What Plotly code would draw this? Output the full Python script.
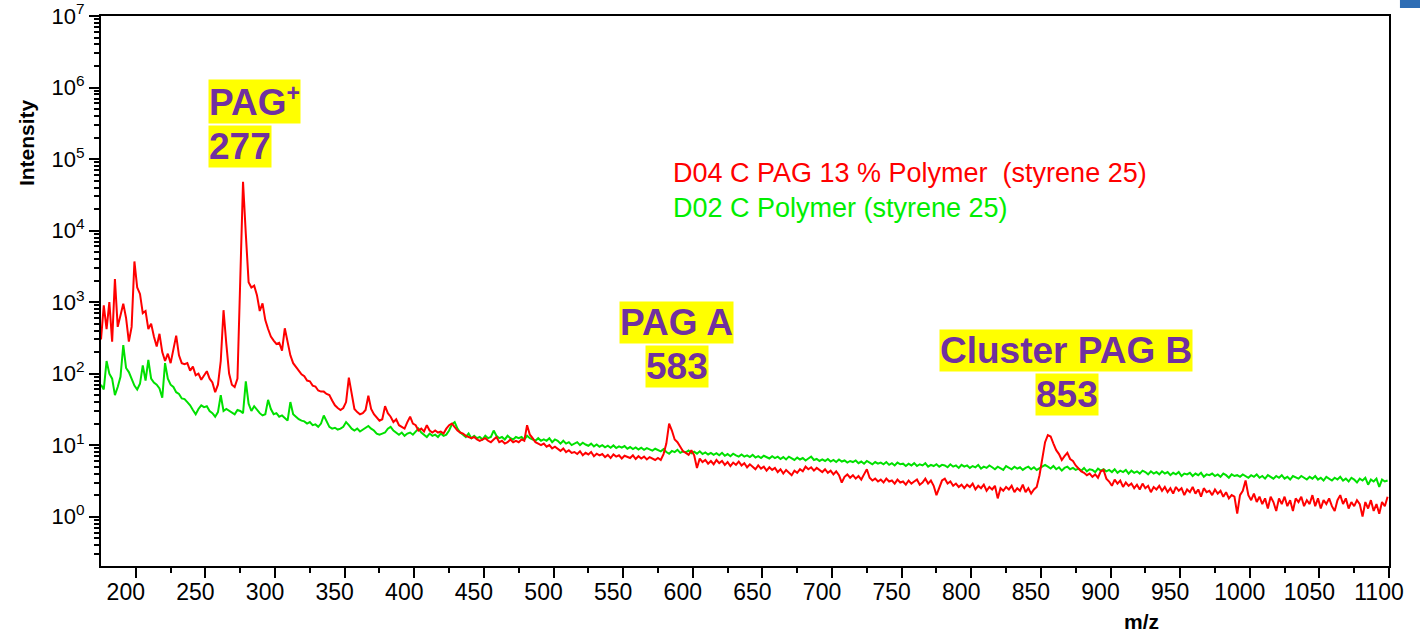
import numpy as np
import plotly.graph_objects as go

# m/z sampling grid of both spectra (every 2 units)
mz = np.arange(175, 1101, 2)

# D04 C PAG 13 % Polymer (styrene 25) - intensity, rows of 10 points (20 m/z units each)
pag_polymer = [
    300, 900, 420, 1000, 280, 2100, 450, 650, 950, 600,          # 175
    280, 450, 3700, 1600, 1300, 700, 750, 420, 500, 330,         # 195
    240, 360, 200, 150, 190, 140, 210, 340, 180, 140,            # 215
    135, 140, 110, 125, 95, 100, 82, 95, 108, 85,                # 235
    75, 55, 70, 150, 770, 260, 100, 70, 65, 85,                  # 255
    3000, 48000, 9000, 1900, 1600, 1700, 1250, 750, 960, 560,    # 275
    420, 330, 290, 260, 270, 210, 430, 260, 180, 140,            # 295
    125, 108, 98, 92, 80, 78, 68, 66, 58, 56,                    # 315
    56, 52, 50, 42, 36, 33, 31, 33, 40, 88,                      # 335
    50, 32, 29, 27, 28, 31, 49, 32, 27, 24,                      # 355
    22, 23, 35, 28, 25, 21, 23, 19, 18, 17,                      # 375
    21, 25, 20, 19, 16, 17, 15.5, 19, 16, 15,                    # 395
    16, 15, 15.5, 14.5, 17, 19, 20, 18, 16, 15,                  # 415
    14.5, 13.5, 13, 12.5, 13, 12, 11.5, 12, 12.5, 11.5,          # 435
    11, 12, 13, 11, 11.5, 10.5, 11, 12, 11, 11.5,                # 455
    11, 12, 11.5, 19, 14, 12.5, 11, 10.5, 10, 10.5,              # 475
    9.5, 10, 9, 9.5, 8.8, 8.3, 9, 8, 8.5, 7.8,                   # 495
    8, 7.5, 8.2, 7.2, 7.8, 7.4, 8, 7, 7.6, 7.2,                  # 515
    7.5, 6.8, 7.3, 6.6, 7.4, 6.9, 7.2, 6.5, 7.1, 6.8,            # 535
    6.6, 7.2, 6.4, 7, 6.5, 6.9, 6.3, 6.8, 6.5, 6.2,              # 555
    6.6, 6.2, 7.5, 10.5, 20, 16, 12, 11, 9.5, 8.2,               # 575
    7.8, 7.3, 8.5, 7.2, 4.8, 6.5, 5.8, 6.2, 5.5, 6,              # 595
    5.4, 6.2, 5.6, 6, 5.3, 5.8, 5.1, 5.7, 5.3, 5.9,              # 615
    5.2, 5.6, 4.9, 5.4, 5, 4.6, 5.2, 4.7, 5, 4.4,                # 635
    4.9, 4.5, 4.8, 4.2, 4.6, 4, 4.5, 4.1, 3.8, 4.4,              # 655
    4.1, 4.6, 4.3, 5, 4.6, 4.9, 4.4, 4.8, 4.5, 4.2,              # 675
    4.6, 4.1, 4.4, 3.9, 4.3, 3.8, 3.0, 3.6, 3.9, 3.5,            # 695
    3.8, 3.4, 3.7, 3.3, 3.9, 4.6, 3.5, 3.2, 3.4, 3.1,            # 715
    3.3, 3, 3.4, 3.1, 3.2, 2.9, 3.3, 3, 3.1, 2.8,                # 735
    3.2, 2.9, 3.1, 3.3, 2.8, 3.0, 3.4, 2.9, 3.2, 2.7,            # 755
    2.0, 2.6, 3.2, 3.4, 2.9, 3.1, 2.7, 2.9, 2.6, 2.8,            # 775
    2.5, 2.8, 2.6, 2.9, 2.4, 2.7, 2.5, 2.8, 2.3, 2.6,            # 795
    2.4, 2.7, 1.8, 2.5, 2.3, 2.6, 2.4, 2.7, 2.2, 2.5,            # 815
    2.3, 2.8, 2.2, 2.5, 2.1, 2.4, 2.6, 3.8, 6.5, 11,             # 835
    13.8, 13.2, 10.5, 8.5, 7.5, 6.2, 7, 7.8, 6.4, 6,             # 855
    5.2, 4.7, 4.3, 4.1, 3.8, 4, 3.6, 3.9, 3.5, 4.3,              # 875
    4.5, 3.4, 3.1, 2.7, 3.3, 2.9, 3.2, 2.6, 3, 2.7,              # 895
    2.9, 2.5, 2.8, 2.4, 2.9, 2.5, 2.7, 2.2, 2.6, 2.4,            # 915
    2.7, 2.3, 2.6, 2.2, 2.5, 2.1, 2.6, 2.3, 2.5, 2.0,            # 935
    2.4, 2.2, 2.6, 2.1, 2.4, 1.9, 2.5, 2.2, 2.3, 2.0,            # 955
    2.4, 2.1, 2.3, 1.9, 2.2, 1.8, 2.0, 1.9, 1.1, 2.0,            # 975
    2.3, 3.2, 2.0, 1.7, 2.1, 1.6, 1.9, 1.5, 1.8, 1.3,            # 995
    1.9, 1.6, 1.2, 1.8, 1.5, 1.9, 1.4, 1.7, 1.2, 1.8,            # 1015
    1.6, 1.9, 1.4, 1.7, 1.5, 2.0, 1.4, 1.8, 1.3, 1.7,            # 1035
    1.5, 1.8, 1.4, 1.2, 1.7, 2.0, 1.5, 1.8, 1.3, 1.6,            # 1055
    1.4, 1.7, 1.5, 1.0, 1.6, 1.3, 1.7, 1.2, 1.5, 1.1,            # 1075
    1.6, 1.4, 1.9,                                               # 1095
]

# D02 C Polymer (styrene 25) - intensity on the same grid
polymer = [
    70, 60, 150, 100, 85, 50, 65, 90, 250, 120,                  # 175
    105, 85, 68, 60, 72, 130, 80, 155, 85, 75,                   # 195
    70, 62, 46, 140, 85, 70, 65, 55, 52, 45,                     # 215
    44, 40, 36, 31, 27, 32, 36, 34, 35, 30,                      # 235
    28, 25, 29, 50, 30, 32, 30, 28, 27, 31,                      # 255
    30, 28, 78, 38, 30, 35, 31, 28, 26, 27,                      # 275
    43, 32, 27, 28, 25, 26, 24, 22, 40, 27,                      # 295
    25, 23, 22, 21.5, 20, 21, 19, 19.5, 18, 20,                  # 315
    26, 22, 18, 17, 17.5, 16.5, 17, 18, 21, 19,                  # 335
    17, 16, 17, 15.5, 16.5, 17.5, 18.5, 17, 16, 14.5,            # 355
    14, 14.5, 15, 17, 18, 16, 15, 14, 15, 13.5,                  # 375
    14.5, 15, 14, 15.5, 17, 15, 14, 13, 14.5, 13.5,              # 395
    14, 13, 14.5, 13.5, 14, 16, 19.5, 21, 17, 15,                # 415
    14, 13, 14.5, 12.5, 13.5, 12.5, 13, 12, 13.5, 12.5,          # 435
    13, 16, 13.5, 12.5, 13, 12, 13.5, 12.5, 12, 13,              # 455
    12.5, 13, 12, 13.5, 12.5, 12, 11.5, 12.5, 11.5, 12,          # 475
    11.5, 12.5, 11, 12, 11.5, 10.5, 11.5, 10.5, 11, 10,          # 495
    10.5, 11, 10, 10.8, 10.2, 9.8, 10.5, 9.6, 10.2, 9.5,         # 515
    10, 9.3, 9.8, 9.2, 9.9, 9.1, 9.6, 9.2, 9.7, 8.9,             # 535
    9.4, 8.8, 9.3, 8.7, 9.2, 8.6, 9.1, 8.8, 8.4, 8.9,            # 555
    8.5, 8.2, 8.8, 8, 7.6, 8.3, 8.0, 8.6, 7.8, 8.2,              # 575
    7.9, 8.4, 7.7, 8.1, 7.6, 8.2, 7.5, 7.9, 7.4, 7.8,            # 595
    7.3, 7.7, 7.2, 7.8, 7.1, 7.5, 7.0, 7.6, 7.2, 6.9,            # 615
    7.4, 6.9, 7.2, 6.8, 7.3, 6.7, 7.0, 6.6, 7.1, 6.8,            # 635
    6.5, 7.0, 6.6, 6.9, 6.4, 6.8, 6.3, 6.9, 6.5, 6.2,            # 655
    6.7, 6.3, 6.6, 6.1, 6.5, 6.9, 6.2, 6.4, 6.0, 6.3,            # 675
    6.0, 6.4, 5.9, 6.2, 5.8, 6.3, 5.9, 6.1, 5.7, 6.0,            # 695
    5.8, 6.1, 5.6, 5.9, 5.5, 6.0, 5.7, 5.4, 5.8, 5.5,            # 715
    5.7, 5.4, 5.8, 5.3, 5.6, 5.2, 5.7, 5.4, 5.5, 5.1,            # 735
    5.5, 5.2, 5.6, 5.1, 5.4, 5.2, 5.6, 5.0, 5.3, 5.1,            # 755
    5.4, 5.0, 5.3, 5.2, 4.9, 5.4, 5.0, 5.2, 4.8, 5.3,            # 775
    5.0, 5.2, 4.8, 5.1, 4.9, 5.3, 4.7, 5.0, 4.8, 5.2,            # 795
    4.9, 4.6, 5.0, 4.8, 4.5, 5.1, 4.8, 4.6, 5.0, 4.7,            # 815
    4.9, 4.5, 4.8, 5.0, 4.6, 4.9, 4.5, 4.8, 5.0, 5.3,            # 835
    5.0, 4.7, 5.1, 4.6, 4.9, 4.4, 4.8, 5.0, 4.6, 4.8,            # 855
    4.5, 4.7, 4.4, 4.8, 4.3, 4.6, 4.5, 4.2, 4.7, 4.4,            # 875
    4.6, 4.3, 4.5, 4.2, 4.6, 4.1, 4.4, 4.2, 4.5, 4.0,            # 895
    4.4, 4.1, 4.3, 4.0, 4.4, 4.2, 3.9, 4.3, 4.0, 4.2,            # 915
    3.9, 4.3, 4.0, 4.2, 3.8, 4.1, 3.9, 4.2, 3.7, 4.0,            # 935
    3.9, 4.1, 3.7, 4.0, 3.8, 4.1, 3.6, 3.9, 3.8, 4.0,            # 955
    3.7, 3.9, 3.6, 4.0, 3.8, 3.5, 3.9, 3.7, 3.8, 3.6,            # 975
    3.9, 3.7, 3.5, 3.8, 3.6, 3.9, 3.5, 3.7, 3.4, 3.8,            # 995
    3.6, 3.4, 3.7, 3.5, 3.8, 3.4, 3.6, 3.3, 3.7, 3.5,            # 1015
    3.4, 3.7, 3.5, 3.3, 3.6, 3.4, 3.7, 3.3, 3.5, 3.2,            # 1035
    3.6, 3.4, 3.2, 3.5, 3.3, 3.6, 3.2, 3.4, 3.1, 3.5,            # 1055
    3.3, 3.0, 3.4, 3.2, 3.5, 2.8, 3.3, 3.1, 3.4, 2.6,            # 1075
    3.3, 3.1, 3.2,                                               # 1095
]

assert len(pag_polymer) == len(mz) == len(polymer)

series_names = ["D04 C PAG 13 % Polymer  (styrene 25)", "D02 C Polymer (styrene 25)"]
series_colors = ["#FF0000", "#00E000"]

# peak labels: (line text, m/z of label centre or left edge, log10 height, anchor)
peak_labels = [
    ("PAG<span style='font-size:33px'><sup>+</sup></span>", 252.0, 5.806, "left"),
    ("277", 252.0, 5.177, "left"),
    ("PAG A", 588.3, 2.721, "center"),
    ("583", 588.4, 2.102, "center"),
    ("Cluster PAG B", 868.3, 2.33, "center"),
    ("853", 868.9, 1.701, "center"),
]

x_ticks = list(range(200, 1101, 50))
x_minor = list(range(225, 1100, 50))
y_decades = list(range(0, 8))
y_ticks = [10.0 ** p for p in y_decades]
y_ticktext = [f"10<sup>{p}</sup>" for p in y_decades]
y_minor = [m * 10.0 ** p for p in range(-1, 7) for m in range(2, 10)]

FONT = "Liberation Sans, Arial, sans-serif"

fig = go.Figure()
fig.add_trace(go.Scatter(x=mz, y=polymer, mode="lines", name=series_names[1],
                         line=dict(color=series_colors[1], width=2)))
fig.add_trace(go.Scatter(x=mz, y=pag_polymer, mode="lines", name=series_names[0],
                         line=dict(color=series_colors[0], width=2)))

annotations = []
for text, xv, yv, anchor in peak_labels:
    annotations.append(dict(
        x=xv, y=yv, xref="x", yref="y", text=f"<b>{text}</b>", showarrow=False,
        xanchor=anchor, yanchor="middle", bgcolor="#FFFF00", borderpad=0,
        font=dict(family=FONT, size=37, color="#7030A0")))

# series captions
for name, color, yv in zip(series_names, ["#FF0000", "#00EE00"], [4.798, 4.318]):
    annotations.append(dict(
        x=584.5, y=yv, xref="x", yref="y", text=name.replace("  ", "&nbsp; "),
        showarrow=False, xanchor="left", yanchor="middle",
        font=dict(family=FONT, size=27, color=color)))

# axis titles
annotations.append(dict(x=-0.0582, y=0.769, xref="paper", yref="paper", text="<b>Intensity</b>",
                        textangle=-90, showarrow=False, xanchor="center", yanchor="middle",
                        font=dict(family=FONT, size=21, color="black")))
annotations.append(dict(x=0.8075, y=-0.1018, xref="paper", yref="paper", text="<b>m/z</b>",
                        showarrow=False, xanchor="center", yanchor="middle",
                        font=dict(family=FONT, size=21, color="black")))

fig.update_layout(
    width=1420, height=633,
    margin=dict(l=101, r=31, t=16, b=67, autoexpand=False),
    paper_bgcolor="white", plot_bgcolor="white",
    showlegend=False,
    annotations=annotations,
    shapes=[dict(type="rect", xref="paper", yref="paper", x0=1.0085, x1=1.03, y0=1.0145, y1=1.04,
                 fillcolor="#2E6DB4", line=dict(width=0))],
)

fig.update_xaxes(
    range=[175, 1100], tickvals=x_ticks, ticks="outside", ticklen=10, tickwidth=2,
    tickcolor="black", showline=True, linewidth=2, linecolor="black", mirror=True,
    showgrid=False, zeroline=False, automargin=False, ticklabelshift=-10, ticklabelstandoff=-6,
    tickfont=dict(family=FONT, size=23, color="black"),
    minor=dict(tickvals=x_minor, ticks="outside", ticklen=5, tickwidth=2, tickcolor="black", showgrid=False),
)
fig.update_yaxes(
    type="log", range=[-0.69, 7.0], tickvals=y_ticks, ticktext=y_ticktext,
    ticks="outside", ticklen=10, tickwidth=2, tickcolor="black",
    showline=True, linewidth=2, linecolor="black", mirror=True,
    showgrid=False, zeroline=False, automargin=False, ticklabelstandoff=0,
    tickfont=dict(family=FONT, size=22, color="black"),
    minor=dict(tickvals=y_minor, ticks="outside", ticklen=5, tickwidth=2, tickcolor="black", showgrid=False),
)

fig.write_html("out.html")
